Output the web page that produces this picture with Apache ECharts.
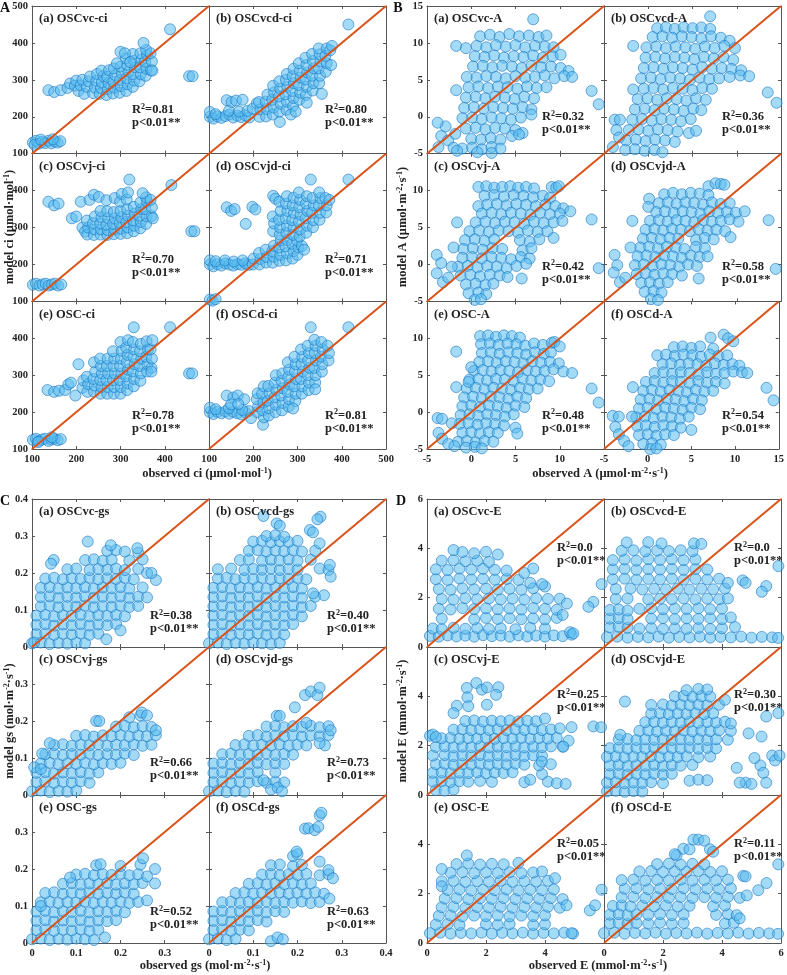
<!DOCTYPE html>
<html>
<head>
<meta charset="utf-8">
<script src="https://cdn.jsdelivr.net/npm/echarts@6/dist/echarts.min.js"></script>
<style>
html, body { margin: 0; background: #fff; }
#main { width: 787px; height: 975px; }
</style>
</head>
<body>
<div id="main"></div>
<script>
// model names and subplot letters
const models = ['OSCvc', 'OSCvcd', 'OSCvj', 'OSCvjd', 'OSC', 'OSCd'];
const letters = ['a', 'b', 'c', 'd', 'e', 'f'];

// R2 per model
const ciR2 = ['0.81', '0.80', '0.70', '0.71', '0.78', '0.81'];
const aR2 = ['0.32', '0.36', '0.42', '0.58', '0.48', '0.54'];
const gsR2 = ['0.38', '0.40', '0.66', '0.73', '0.52', '0.63'];
const eR2 = ['0.0', '0.0', '0.25', '0.30', '0.05', '0.11'];

// axis ranges [min, max, step]
const ciAxis = [100, 500, 100];
const aAxis = [-5, 15, 5];
const gsAxis = [0, 0.4, 0.1];
const eAxis = [0, 6, 2];

// observed vs model, ci (umol/mol)
const ciVc = [[102,130],[109,135],[116,127],[123,132],[130,129],[137,135],[144,128],[151,133],[158,130],[164,134],[106,124],[147,139],[120,138],[137,272],[150,267],[165,272],[180,278],[186,290],[197,284],[200,298],[205,270],[210,285],[214,300],[218,262],[224,281],[228,296],[231,309],[238,264],[242,279],[245,297],[247,316],[253,262],[256,278],[258,293],[261,310],[257,325],[268,259],[271,275],[273,291],[270,308],[274,326],[283,263],[286,279],[284,295],[288,313],[285,331],[298,265],[301,283],[299,300],[303,318],[300,336],[313,270],[316,288],[314,305],[318,322],[315,341],[312,358],[328,281],[331,298],[329,315],[333,334],[331,352],[328,370],[343,296],[346,315],[344,334],[348,355],[345,372],[357,311],[359,330],[356,349],[360,367],[358,381],[369,326],[371,350],[368,372],[300,376],[310,372],[352,400],[412,437],[372,325],[455,310],[463,310],[292,345],[322,348]];
const ciVcd = [[102,200],[102,213],[110,195],[119,201],[128,197],[137,202],[146,206],[155,198],[164,203],[173,199],[182,204],[191,198],[115,207],[145,216],[168,214],[187,216],[140,245],[151,240],[161,244],[176,246],[199,222],[208,236],[214,200],[216,220],[213,240],[229,201],[231,221],[228,241],[232,260],[244,206],[246,225],[243,246],[247,266],[245,284],[260,186],[259,214],[262,235],[258,255],[261,276],[259,296],[275,219],[276,241],[273,261],[277,281],[274,300],[276,316],[290,229],[291,251],[288,270],[292,291],[289,310],[291,330],[304,246],[306,265],[303,286],[307,306],[305,325],[303,345],[319,259],[321,281],[318,301],[322,320],[320,340],[318,360],[334,271],[336,291],[333,311],[337,331],[335,351],[333,370],[349,291],[351,311],[348,331],[352,350],[350,369],[348,385],[364,322],[366,345],[363,365],[366,385],[376,340],[374,380],[378,392],[285,206],[296,214],[321,238],[415,450],[355,262]];
const ciVj = [[102,145],[109,148],[117,143],[124,146],[131,148],[138,143],[145,146],[152,148],[159,143],[166,146],[137,370],[150,360],[160,365],[190,325],[200,330],[210,370],[230,375],[214,300],[220,289],[240,389],[251,383],[225,281],[227,300],[224,319],[240,280],[241,295],[238,312],[242,330],[255,281],[256,295],[254,311],[257,328],[255,345],[270,280],[271,293],[268,308],[272,325],[270,344],[268,374],[285,282],[286,295],[283,310],[287,325],[285,342],[287,380],[300,283],[301,297],[298,312],[302,328],[300,345],[299,370],[303,391],[315,285],[316,300],[313,315],[317,332],[315,350],[314,376],[317,395],[330,290],[331,305],[328,320],[332,338],[330,356],[345,298],[346,315],[343,332],[347,350],[345,368],[358,310],[359,330],[356,350],[360,370],[358,382],[370,331],[371,355],[368,375],[373,325],[320,430],[415,415],[460,290],[467,290],[350,393]];
const ciVjd = [[102,200],[102,211],[110,195],[119,201],[128,197],[137,203],[146,200],[155,197],[164,201],[173,199],[182,203],[190,199],[115,209],[136,211],[156,208],[176,211],[102,105],[108,102],[115,106],[140,355],[150,345],[158,350],[183,310],[198,356],[205,349],[245,386],[250,378],[199,200],[201,216],[214,200],[216,215],[213,231],[229,205],[231,220],[228,240],[244,205],[246,221],[243,236],[247,251],[259,210],[261,226],[258,246],[262,265],[274,211],[276,231],[273,249],[277,266],[289,216],[291,236],[288,256],[300,226],[302,246],[299,265],[310,250],[315,240],[245,290],[247,311],[244,330],[260,281],[261,300],[258,321],[262,345],[259,370],[275,285],[276,305],[273,325],[277,345],[274,365],[276,385],[290,280],[291,300],[288,320],[292,340],[289,360],[291,381],[305,276],[306,295],[303,315],[307,335],[304,355],[306,375],[303,395],[320,286],[321,305],[318,325],[322,345],[319,365],[321,385],[335,301],[336,320],[333,340],[337,360],[334,380],[350,321],[351,340],[348,360],[352,380],[349,395],[365,341],[366,360],[363,380],[372,375],[330,430],[415,430]];
const ciOsc = [[102,125],[109,128],[116,122],[123,126],[130,128],[137,122],[144,126],[151,128],[158,124],[165,127],[114,119],[145,132],[135,260],[150,255],[161,258],[175,260],[182,275],[188,280],[198,245],[205,330],[214,266],[216,286],[225,255],[227,276],[224,296],[240,256],[242,272],[239,290],[243,310],[240,335],[255,250],[257,268],[254,287],[258,305],[256,325],[254,345],[270,250],[271,268],[268,287],[272,305],[269,325],[271,345],[285,250],[286,268],[283,287],[287,305],[284,325],[286,345],[283,365],[300,250],[301,268],[298,287],[302,305],[299,325],[301,345],[303,366],[300,390],[315,260],[316,278],[313,297],[317,315],[314,335],[316,355],[313,375],[317,395],[330,270],[331,290],[328,310],[332,330],[329,350],[331,370],[328,390],[345,285],[346,305],[343,325],[347,345],[344,365],[346,385],[360,310],[361,330],[358,350],[362,370],[359,392],[370,320],[371,345],[368,370],[372,395],[370,310],[330,430],[412,430],[455,305],[462,305]];
const ciOscd = [[102,200],[102,212],[110,195],[119,201],[128,197],[137,202],[146,196],[155,201],[164,197],[173,194],[182,200],[190,203],[115,208],[145,211],[175,206],[195,184],[140,245],[155,240],[165,245],[180,235],[150,221],[166,222],[209,200],[211,216],[208,235],[210,251],[222,166],[224,186],[221,205],[223,226],[220,250],[224,270],[235,191],[236,211],[233,231],[237,251],[234,271],[250,200],[251,220],[248,240],[252,260],[249,280],[251,300],[265,205],[266,225],[263,245],[267,265],[264,285],[266,305],[280,215],[281,235],[278,255],[282,275],[279,295],[281,315],[278,335],[295,230],[296,250],[293,270],[297,290],[294,310],[296,330],[293,350],[310,250],[311,270],[308,290],[312,310],[309,330],[311,350],[308,370],[325,260],[326,280],[323,300],[327,320],[324,340],[326,360],[323,380],[340,280],[341,300],[338,320],[342,340],[339,360],[341,380],[338,396],[355,310],[356,330],[353,350],[357,370],[354,390],[370,340],[371,360],[368,380],[330,430],[415,430],[340,262],[290,210]];

// observed vs model, A (umol m-2 s-1)
const aVc = [[1,10.9],[2.1,11.1],[3.2,10.8],[4.3,11.2],[5.4,10.9],[6.5,11],[7.6,10.8],[8.5,11],[0.6,9.6],[1.7,9.4],[2.8,9.7],[3.9,9.5],[5,9.7],[6.1,9.4],[7.2,9.6],[8.3,9.5],[9.3,9.4],[0.4,8.2],[1.5,8.1],[2.6,8.3],[3.7,8],[4.8,8.2],[5.9,8.1],[7,8.3],[8.1,8],[9.2,8.2],[10.1,8.4],[0.2,6.8],[1.3,6.9],[2.4,6.7],[3.5,6.9],[4.6,6.8],[5.7,6.6],[6.8,6.9],[7.9,6.7],[9,6.8],[10.1,6.6],[11,6.2],[-0.5,5.4],[0.6,5.3],[1.7,5.5],[2.8,5.4],[3.9,5.2],[5,5.5],[6.1,5.3],[7.2,5.4],[8.3,5.6],[9.4,5.2],[10.5,5.5],[11.4,5.4],[-0.3,4],[0.8,4.1],[1.9,3.9],[3,4.1],[4.1,4],[5.2,3.8],[6.3,4.1],[7.4,3.9],[8.5,4],[-0.6,2.6],[0.5,2.7],[1.6,2.5],[2.7,2.7],[3.8,2.6],[4.9,2.4],[6,2.7],[7.1,2.5],[-0.8,1.2],[0.3,1.3],[1.4,1.1],[2.5,1.3],[3.6,1.2],[4.7,1.1],[5.8,1.3],[6.8,1],[-1,-0.2],[0.1,-0.1],[1.2,-0.3],[2.3,-0.1],[3.4,-0.2],[4.5,-0.4],[5.6,-0.1],[6.8,0.3],[-0.6,-1.6],[0.5,-1.5],[1.6,-1.7],[2.7,-1.5],[3.8,-1.6],[5,-1.8],[5.8,-2.2],[0,-3],[1.1,-3.1],[2.2,-2.9],[3.3,-3.1],[4.6,-2.6],[5.4,-2.4],[-1,-4.3],[0.1,-4.2],[1.2,-4.4],[2.3,-4.1],[3.3,-4.3],[-3.7,-4.1],[-3.4,-2.6],[-2.9,-1.3],[-3.8,-0.8],[-2.6,-3.2],[-2,-4.2],[-1.6,-4.6],[-1.8,-2.3],[0.7,-4.8],[2.3,-4.9],[-1.7,9.6],[-0.6,9.3],[-1.7,3.6],[13.6,3.5],[14.4,1.7],[7,13.2]];
const aVcd = [[1,12],[2,12.1],[3,11.9],[4,12.1],[5,12],[6,12.1],[7,11.9],[0.5,10.8],[1.6,10.9],[2.7,10.7],[3.8,10.9],[4.9,10.8],[6,10.6],[7.1,10.9],[8.2,10.7],[9.2,10.3],[-0.2,9.4],[0.9,9.5],[2,9.3],[3.1,9.5],[4.2,9.4],[5.3,9.2],[6.4,9.5],[7.5,9.3],[8.6,9.6],[9.8,9.3],[-0.3,8],[0.8,8.1],[1.9,7.9],[3,8.1],[4.1,8],[5.2,7.8],[6.3,8.1],[7.4,7.9],[8.5,8.1],[9.6,7.7],[-0.5,6.6],[0.6,6.7],[1.7,6.5],[2.8,6.7],[3.9,6.6],[5,6.4],[6.1,6.7],[7.2,6.5],[8.3,6.6],[9.4,6.5],[10.5,6.3],[-0.8,5.2],[0.3,5.3],[1.4,5.1],[2.5,5.3],[3.6,5.2],[4.7,5],[5.8,5.3],[6.9,5.1],[8,5.2],[9.2,5.4],[10.4,5.6],[11.4,5.5],[-0.5,3.8],[0.6,3.9],[1.7,3.7],[2.8,3.9],[3.9,3.8],[5,3.6],[6.1,3.9],[7.2,3.8],[-1.2,2.4],[-0.1,2.5],[1,2.3],[2.1,2.5],[3.2,2.4],[4.3,2.2],[5.4,2.5],[6.5,2.3],[-1.5,1],[-0.4,1.1],[0.7,0.9],[1.8,1.1],[2.9,1],[4,0.8],[5.1,1.1],[6,0.9],[-1.8,-0.4],[-0.7,-0.3],[0.4,-0.5],[1.5,-0.3],[2.6,-0.4],[3.7,-0.6],[4.8,-0.3],[-2.2,-1.8],[-1.1,-1.7],[0,-1.9],[1.1,-1.7],[2.2,-1.8],[3.3,-2],[4.6,-2.2],[5.4,-1.9],[-2.5,-3.2],[-1.4,-3.1],[-0.3,-3.3],[0.8,-3.1],[1.9,-3.2],[3,-3.4],[-2.6,-4.5],[-1.5,-4.4],[-0.4,-4.6],[0.7,-4.5],[1.6,-4.8],[-3.8,-0.4],[-3.2,-0.4],[-3.6,-1.8],[-3.3,-2.8],[-4,-4.1],[-1.7,9.6],[-1.7,3.7],[13.5,3.3],[14.5,1.9],[7,13.6]];
const aVj = [[0.8,10.5],[1.7,10.6],[2.6,10.4],[3.5,10.5],[4.4,10.6],[5.3,10.4],[6.2,10.5],[7.1,10.3],[9.1,10.5],[9.6,10.4],[9.9,10.6],[1.5,9.3],[2.6,9.4],[3.7,9.2],[4.8,9.4],[5.9,9.3],[7,9.1],[8.1,9.3],[8.9,9],[0.8,7.9],[1.8,8.1],[2.9,8.2],[4,8],[5.1,8.2],[6.2,8.1],[7.3,7.9],[8.4,8.1],[9.5,7.9],[10.4,7.6],[1.2,6.9],[2.3,7],[3.4,6.8],[4.5,7],[5.6,6.9],[6.7,6.7],[7.8,7],[8.9,6.8],[10,6.9],[11.2,7.2],[0.5,5.7],[1.6,5.8],[2.7,5.6],[3.8,5.8],[4.9,5.7],[6,5.5],[7.1,5.8],[8.2,5.6],[9.3,5.7],[10.3,5.9],[-0.2,4.5],[0.9,4.6],[2,4.4],[3.1,4.6],[4.2,4.5],[5.3,4.3],[6.4,4.6],[7.5,4.4],[8.6,4.5],[-0.7,3.3],[0.4,3.4],[1.5,3.2],[2.6,3.4],[5.5,3.3],[6.6,3.1],[7.7,3.4],[-0.9,2.1],[0.2,2.2],[1.3,2],[2.4,2.2],[3.5,2.1],[5.8,1.9],[6.8,2.2],[-1,0.9],[0.1,1],[1.2,0.8],[2.3,1],[3.4,0.9],[4.5,0.7],[5.6,1],[6.6,0.8],[-1.5,-0.3],[-0.4,-0.2],[0.7,-0.4],[1.8,-0.2],[2.9,-0.3],[4,-0.5],[5.1,-0.2],[6.2,0.1],[-1.2,-1.5],[-0.1,-1.4],[1,-1.6],[2.1,-1.4],[3.2,-1.5],[4.1,-1.7],[-0.6,-2.7],[0.5,-2.6],[1.6,-2.8],[2.5,-2.6],[-0.3,-3.9],[0.8,-3.8],[1.7,-4],[0.4,-4.8],[1.1,-4.7],[-1.6,5.7],[-2,2.3],[-3.9,1.3],[-3.4,0.2],[-3.9,-1.2],[-3.2,-2.4],[-2.6,-1.8],[-2.2,-0.3],[13.6,6.1],[14.4,-0.5],[9.3,3.6],[5.7,-1.9]];
const aVjd = [[6.8,10.6],[7.6,11],[8.2,10.9],[8.6,10.8],[1.8,9.5],[2.8,9.7],[3.8,9.5],[4.8,9.7],[5.8,9.6],[6.8,9.4],[1.2,8.3],[2.2,8.4],[3.2,8.2],[4.2,8.4],[5.2,8.3],[6.2,8.1],[7.2,8.4],[8.2,8.2],[9.2,8.3],[0.9,7.1],[1.9,7.2],[2.9,7],[3.9,7.2],[4.9,7.1],[5.9,6.9],[6.9,7.2],[7.9,7],[8.9,7.1],[9.9,7],[10.9,7.2],[0.2,5.9],[1.2,6],[2.2,5.8],[3.2,6],[4.2,5.9],[5.2,5.7],[6.2,6],[7.2,5.8],[8.2,5.9],[9.2,6.1],[10.2,5.8],[-0.3,4.7],[0.7,4.8],[1.7,4.6],[2.7,4.8],[3.7,4.7],[4.7,4.5],[5.7,4.8],[6.7,4.6],[7.7,4.7],[8.7,4.5],[-0.6,3.5],[0.4,3.6],[1.4,3.4],[2.4,3.6],[3.4,3.5],[5.4,3.3],[6.4,3.6],[7.4,3.4],[-0.9,2.3],[0.1,2.4],[1.1,2.2],[2.1,2.4],[3.1,2.3],[4.1,2.1],[5.4,2.4],[6.4,2.2],[-1.2,1.1],[-0.2,1.2],[0.8,1],[1.8,1.2],[2.8,1.1],[3.8,0.9],[4.8,1.2],[5.8,1],[6.7,1.1],[-1.5,-0.1],[-0.5,0],[0.5,-0.2],[1.5,0],[2.5,-0.1],[3.5,-0.3],[4.5,0],[5.5,-0.2],[-1.3,-1.3],[-0.3,-1.2],[0.7,-1.4],[1.7,-1.2],[2.7,-1.3],[3.8,-1.5],[-0.8,-2.5],[0.2,-2.4],[1.2,-2.6],[2.2,-2.4],[-0.4,-3.7],[0.6,-3.6],[1.5,-3.8],[0.3,-4.7],[1.1,-4.8],[0.1,8.9],[0,7.8],[-1.8,5.9],[-2,2.3],[-3.8,1.3],[-3.5,-0.1],[-3.9,-1.1],[-3.2,-2.4],[-2.6,-1.8],[13.6,6],[14.4,-0.6],[9.3,3.7],[5.7,-1.9]];
const aOsc = [[1,10.3],[1.9,10.4],[2.8,10.2],[3.7,10.4],[4.6,10.3],[5.5,10.1],[1.1,9.2],[2.1,9.3],[3.1,9.1],[4.1,9.3],[5.1,9.2],[6.1,9],[7.1,9.3],[8.1,9.1],[9.1,9.4],[1.2,8],[2.2,8.1],[3.2,7.9],[4.2,8.1],[5.2,8],[6.2,7.8],[7.2,8.1],[8.2,7.9],[9,8.1],[0.9,6.8],[1.9,6.9],[2.9,6.7],[3.9,6.9],[4.9,6.8],[5.9,6.6],[6.9,6.9],[7.9,6.7],[8.9,6.8],[9.9,6.6],[0.3,5.6],[1.3,5.7],[2.3,5.5],[3.3,5.7],[4.3,5.6],[5.3,5.4],[6.3,5.7],[7.3,5.5],[8.3,5.6],[9.3,5.8],[10.4,5.5],[11.4,5.3],[-0.2,4.4],[0.8,4.5],[1.8,4.3],[2.8,4.5],[3.8,4.4],[4.8,4.2],[5.8,4.5],[6.8,4.3],[7.8,4.4],[8.8,4.2],[-0.5,3.2],[0.5,3.3],[1.5,3.1],[2.5,3.3],[3.5,3.2],[4.5,3],[5.5,3.3],[6.5,3.1],[7.5,3.2],[-0.8,2],[0.2,2.1],[1.2,1.9],[2.2,2.1],[3.2,2],[4.2,1.8],[5.2,2.1],[6.2,1.9],[-1,0.8],[0,0.9],[1,0.7],[2,0.9],[3,0.8],[4,0.6],[5,0.9],[6,0.7],[-1.2,-0.4],[-0.2,-0.3],[0.8,-0.5],[1.8,-0.3],[2.8,-0.4],[3.8,-0.6],[4.8,-0.3],[-1.3,-1.6],[-0.3,-1.5],[0.7,-1.7],[1.7,-1.5],[2.7,-1.6],[3.7,-1.8],[5,-2.1],[-1,-2.8],[0,-2.7],[1,-2.9],[2,-2.7],[3,-2.8],[5.2,-2.9],[-1.5,-4],[-0.5,-3.9],[0.5,-4.1],[1.5,-3.9],[2.5,-4],[-0.6,-4.8],[0.4,-4.7],[1.2,-4.9],[-1.7,8.2],[0,6.1],[-0.3,4.1],[-1.7,3.4],[-3.8,-0.8],[-3.3,-0.9],[-3.7,-2.8],[-3.3,-3.6],[-2.6,-4.3],[-1.9,-4.6],[-2.2,-1.5],[13.6,3.2],[14.4,1.3],[9.4,9.5],[10,8.9]];
const aOscd = [[7.2,10.1],[8.7,10.5],[9.2,10],[9.8,9.6],[3,8.8],[4,8.9],[5,8.7],[6,8.9],[7.5,8.6],[1.1,7.7],[2.1,7.8],[3.1,7.6],[4.1,7.8],[5.1,7.7],[6.1,7.5],[7.1,7.8],[8.1,7.6],[9.1,7.7],[1.7,6.5],[2.7,6.6],[3.7,6.4],[4.7,6.6],[5.7,6.5],[6.7,6.3],[7.7,6.6],[8.7,6.4],[9.7,6.5],[10.5,6.3],[0.8,5.3],[1.8,5.4],[2.8,5.2],[3.8,5.4],[4.8,5.3],[5.8,5.1],[6.8,5.4],[7.8,5.2],[8.8,5.3],[9.8,5.5],[10.8,5.4],[11.4,5.3],[-0.2,4.1],[0.8,4.2],[1.8,4],[2.8,4.2],[3.8,4.1],[4.8,3.9],[5.8,4.2],[6.8,4],[7.8,4.1],[8.8,3.9],[-0.5,2.9],[0.5,3],[1.5,2.8],[2.5,3],[3.5,2.9],[4.5,2.7],[5.5,3],[6.5,2.8],[7.5,2.9],[-0.8,1.7],[0.2,1.8],[1.2,1.6],[2.2,1.8],[3.2,1.7],[4.2,1.5],[5.2,1.8],[6.2,1.6],[-1,0.5],[0,0.6],[1,0.4],[2,0.6],[3,0.5],[4,0.3],[5,0.6],[6,0.4],[-1.3,-0.7],[-0.3,-0.6],[0.7,-0.8],[1.7,-0.6],[2.7,-0.7],[3.7,-0.9],[4.7,-0.6],[-1.2,-1.9],[-0.2,-1.8],[0.8,-2],[1.8,-1.8],[2.8,-1.9],[3.8,-2.1],[5,-2.4],[-1,-3.1],[0,-3],[1,-3.2],[2,-3],[3,-3.1],[-0.5,-4.3],[0.5,-4.2],[1.5,-4.4],[0.3,-5],[1,-4.9],[-4,-0.5],[-3.3,-0.6],[-1.8,-0.6],[-3.7,-2],[-3.3,-3],[-2.7,-3.9],[-2.2,-4.6],[-1.7,3.4],[13.6,3.3],[14.4,1.6]];

// observed vs model, gs (mol m-2 s-1)
const gsVc = [[0,0.01],[0.02,0.012],[0.04,0.008],[0.06,0.011],[0.08,0.009],[0.1,0.012],[0.12,0.01],[0.01,0.035],[0.03,0.037],[0.05,0.033],[0.07,0.036],[0.09,0.034],[0.11,0.037],[0.13,0.033],[0.15,0.036],[0.01,0.06],[0.03,0.062],[0.05,0.058],[0.07,0.061],[0.09,0.059],[0.11,0.062],[0.13,0.058],[0.15,0.061],[0.17,0.059],[0.19,0.062],[0.01,0.085],[0.03,0.087],[0.05,0.083],[0.07,0.086],[0.09,0.084],[0.11,0.087],[0.13,0.083],[0.15,0.086],[0.17,0.084],[0.19,0.087],[0.21,0.083],[0.02,0.11],[0.04,0.112],[0.06,0.108],[0.08,0.111],[0.1,0.109],[0.12,0.112],[0.14,0.108],[0.16,0.111],[0.18,0.109],[0.2,0.112],[0.22,0.108],[0.24,0.111],[0.02,0.135],[0.04,0.137],[0.06,0.133],[0.08,0.136],[0.1,0.134],[0.12,0.137],[0.14,0.133],[0.16,0.136],[0.18,0.134],[0.2,0.137],[0.22,0.133],[0.24,0.136],[0.26,0.134],[0.02,0.16],[0.04,0.162],[0.06,0.158],[0.08,0.161],[0.1,0.159],[0.12,0.162],[0.14,0.158],[0.16,0.161],[0.18,0.159],[0.2,0.162],[0.22,0.158],[0.25,0.161],[0.03,0.185],[0.05,0.187],[0.07,0.183],[0.09,0.186],[0.11,0.184],[0.13,0.187],[0.15,0.183],[0.17,0.186],[0.19,0.184],[0.21,0.187],[0.23,0.183],[0.28,0.181],[0.08,0.21],[0.1,0.212],[0.13,0.208],[0.15,0.211],[0.17,0.209],[0.19,0.212],[0.21,0.208],[0.24,0.211],[0.26,0.2],[0.12,0.235],[0.14,0.237],[0.16,0.233],[0.18,0.236],[0.22,0.234],[0.25,0.237],[0.17,0.26],[0.19,0.262],[0.21,0.258],[0.24,0.255],[0.126,0.285],[0.049,0.235],[0.043,0.225],[0.168,0.021],[0.238,0.267],[0.178,0.275],[0.27,0.2],[0.005,0.012],[0.2,0.045]];
const gsVcd = [[0,0.01],[0.02,0.012],[0.04,0.008],[0.06,0.011],[0.08,0.009],[0.1,0.012],[0.12,0.01],[0.14,0.008],[0.16,0.011],[0.01,0.035],[0.03,0.037],[0.05,0.033],[0.07,0.036],[0.09,0.034],[0.11,0.037],[0.13,0.033],[0.15,0.036],[0.17,0.034],[0.01,0.06],[0.03,0.062],[0.05,0.058],[0.07,0.061],[0.09,0.059],[0.11,0.062],[0.13,0.058],[0.15,0.061],[0.17,0.059],[0.19,0.062],[0.01,0.085],[0.03,0.087],[0.05,0.083],[0.07,0.086],[0.09,0.084],[0.11,0.087],[0.13,0.083],[0.15,0.086],[0.17,0.084],[0.19,0.087],[0.21,0.083],[0.01,0.11],[0.03,0.112],[0.05,0.108],[0.07,0.111],[0.09,0.109],[0.11,0.112],[0.13,0.108],[0.15,0.111],[0.17,0.109],[0.19,0.112],[0.21,0.108],[0.23,0.111],[0.01,0.135],[0.03,0.137],[0.05,0.133],[0.07,0.136],[0.09,0.134],[0.11,0.137],[0.13,0.133],[0.15,0.136],[0.17,0.134],[0.19,0.137],[0.21,0.133],[0.24,0.136],[0.26,0.14],[0.01,0.16],[0.03,0.162],[0.05,0.158],[0.07,0.161],[0.09,0.159],[0.11,0.162],[0.13,0.158],[0.15,0.161],[0.17,0.159],[0.19,0.162],[0.21,0.158],[0.02,0.185],[0.04,0.187],[0.06,0.183],[0.08,0.186],[0.1,0.184],[0.12,0.187],[0.14,0.183],[0.16,0.186],[0.18,0.184],[0.2,0.187],[0.22,0.183],[0.02,0.21],[0.05,0.212],[0.08,0.208],[0.1,0.211],[0.12,0.209],[0.14,0.212],[0.16,0.208],[0.18,0.211],[0.2,0.209],[0.25,0.212],[0.27,0.208],[0.07,0.235],[0.09,0.237],[0.12,0.233],[0.14,0.236],[0.16,0.234],[0.18,0.237],[0.2,0.233],[0.23,0.236],[0.09,0.26],[0.11,0.262],[0.13,0.258],[0.15,0.261],[0.17,0.259],[0.19,0.262],[0.21,0.258],[0.24,0.26],[0.1,0.285],[0.12,0.287],[0.14,0.283],[0.16,0.286],[0.18,0.284],[0.2,0.287],[0.25,0.28],[0.13,0.3],[0.15,0.302],[0.17,0.298],[0.123,0.354],[0.153,0.334],[0.16,0.328],[0.252,0.352],[0.245,0.345],[0.228,0.316],[0.235,0.31],[0.273,0.222],[0.275,0.19],[0.235,0.145]];
const gsVj = [[0,0.01],[0.02,0.012],[0.04,0.008],[0.06,0.011],[0.08,0.009],[0.1,0.012],[0.01,0.035],[0.03,0.037],[0.05,0.033],[0.07,0.036],[0.09,0.034],[0.11,0.037],[0.13,0.033],[0.01,0.06],[0.03,0.062],[0.05,0.058],[0.07,0.061],[0.09,0.059],[0.11,0.062],[0.13,0.058],[0.15,0.061],[0.02,0.085],[0.04,0.087],[0.06,0.083],[0.08,0.086],[0.1,0.084],[0.12,0.087],[0.14,0.083],[0.16,0.086],[0.18,0.084],[0.2,0.087],[0.03,0.11],[0.05,0.112],[0.07,0.108],[0.09,0.111],[0.11,0.109],[0.13,0.112],[0.15,0.108],[0.17,0.111],[0.19,0.109],[0.21,0.112],[0.23,0.108],[0.05,0.135],[0.07,0.137],[0.09,0.133],[0.11,0.136],[0.13,0.134],[0.15,0.137],[0.17,0.133],[0.19,0.136],[0.21,0.134],[0.23,0.137],[0.25,0.133],[0.27,0.136],[0.1,0.16],[0.12,0.162],[0.14,0.158],[0.16,0.161],[0.18,0.159],[0.2,0.162],[0.22,0.158],[0.24,0.161],[0.26,0.159],[0.28,0.162],[0.19,0.185],[0.21,0.187],[0.23,0.183],[0.25,0.186],[0.27,0.184],[0.22,0.21],[0.245,0.215],[0.023,0.112],[0.005,0.075],[0.02,0.07],[0.145,0.2],[0.152,0.2],[0.248,0.223],[0.26,0.215],[0.04,0.14],[0.28,0.175]];
const gsVjd = [[0,0.01],[0.02,0.012],[0.04,0.008],[0.06,0.011],[0.08,0.009],[0.01,0.035],[0.03,0.037],[0.05,0.033],[0.07,0.036],[0.09,0.034],[0.11,0.037],[0.13,0.033],[0.15,0.036],[0.17,0.034],[0.01,0.06],[0.03,0.062],[0.05,0.058],[0.07,0.061],[0.09,0.059],[0.11,0.062],[0.15,0.061],[0.01,0.085],[0.03,0.087],[0.05,0.083],[0.07,0.086],[0.09,0.084],[0.11,0.087],[0.13,0.083],[0.15,0.086],[0.17,0.084],[0.03,0.11],[0.05,0.112],[0.07,0.108],[0.09,0.111],[0.11,0.109],[0.13,0.112],[0.15,0.108],[0.17,0.111],[0.19,0.109],[0.06,0.135],[0.08,0.137],[0.1,0.133],[0.12,0.136],[0.14,0.134],[0.16,0.137],[0.18,0.133],[0.2,0.136],[0.22,0.134],[0.09,0.16],[0.11,0.162],[0.13,0.158],[0.15,0.161],[0.17,0.159],[0.19,0.162],[0.21,0.158],[0.23,0.161],[0.25,0.159],[0.27,0.162],[0.13,0.185],[0.15,0.187],[0.17,0.183],[0.19,0.186],[0.21,0.184],[0.23,0.187],[0.25,0.183],[0.27,0.186],[0.123,0.04],[0.14,0.015],[0.155,0.02],[0.165,0.01],[0.217,0.27],[0.23,0.28],[0.245,0.27],[0.25,0.29],[0.194,0.237],[0.153,0.214],[0.16,0.214],[0.22,0.195],[0.262,0.134],[0.275,0.175],[0.25,0.14]];
const gsOsc = [[0,0.01],[0.02,0.012],[0.04,0.008],[0.06,0.011],[0.08,0.009],[0.1,0.012],[0.12,0.01],[0.14,0.008],[0.01,0.035],[0.03,0.037],[0.05,0.033],[0.07,0.036],[0.09,0.034],[0.11,0.037],[0.13,0.033],[0.15,0.036],[0.01,0.06],[0.03,0.062],[0.05,0.058],[0.07,0.061],[0.09,0.059],[0.11,0.062],[0.13,0.058],[0.15,0.061],[0.17,0.059],[0.19,0.062],[0.01,0.085],[0.03,0.087],[0.05,0.083],[0.07,0.086],[0.09,0.084],[0.11,0.087],[0.13,0.083],[0.15,0.086],[0.17,0.084],[0.19,0.087],[0.21,0.083],[0.02,0.11],[0.04,0.112],[0.06,0.108],[0.08,0.111],[0.1,0.109],[0.12,0.112],[0.14,0.108],[0.16,0.111],[0.18,0.109],[0.2,0.112],[0.22,0.108],[0.24,0.111],[0.26,0.115],[0.03,0.135],[0.05,0.137],[0.07,0.133],[0.09,0.136],[0.11,0.134],[0.13,0.137],[0.15,0.133],[0.17,0.136],[0.19,0.134],[0.21,0.137],[0.23,0.133],[0.07,0.16],[0.09,0.162],[0.11,0.158],[0.13,0.161],[0.15,0.159],[0.17,0.162],[0.19,0.158],[0.21,0.161],[0.23,0.159],[0.25,0.162],[0.1,0.185],[0.12,0.187],[0.14,0.183],[0.16,0.186],[0.18,0.184],[0.2,0.187],[0.22,0.183],[0.24,0.186],[0.145,0.21],[0.155,0.213],[0.2,0.208],[0.245,0.212],[0.02,0.1],[0.165,0.015],[0.278,0.2],[0.278,0.161],[0.26,0.18],[0.251,0.229],[0.086,0.177]];
const gsOscd = [[0,0.01],[0.02,0.012],[0.04,0.008],[0.06,0.011],[0.01,0.035],[0.03,0.037],[0.05,0.033],[0.07,0.036],[0.09,0.034],[0.01,0.06],[0.03,0.062],[0.05,0.058],[0.07,0.061],[0.09,0.059],[0.11,0.062],[0.13,0.058],[0.01,0.085],[0.03,0.087],[0.05,0.083],[0.07,0.086],[0.09,0.084],[0.11,0.087],[0.13,0.083],[0.15,0.086],[0.17,0.084],[0.03,0.11],[0.05,0.112],[0.07,0.108],[0.09,0.111],[0.11,0.109],[0.13,0.112],[0.15,0.108],[0.17,0.111],[0.19,0.109],[0.21,0.112],[0.23,0.108],[0.25,0.111],[0.06,0.135],[0.08,0.137],[0.1,0.133],[0.12,0.136],[0.14,0.134],[0.16,0.137],[0.18,0.133],[0.2,0.136],[0.22,0.134],[0.24,0.137],[0.26,0.133],[0.09,0.16],[0.11,0.162],[0.13,0.158],[0.15,0.161],[0.17,0.159],[0.19,0.162],[0.21,0.158],[0.23,0.161],[0.12,0.185],[0.14,0.187],[0.16,0.183],[0.18,0.186],[0.2,0.184],[0.22,0.187],[0.25,0.183],[0.27,0.186],[0.14,0.21],[0.16,0.212],[0.19,0.208],[0.21,0.211],[0.19,0.235],[0.2,0.24],[0.14,0.005],[0.155,0.015],[0.167,0.01],[0.217,0.309],[0.225,0.31],[0.239,0.305],[0.25,0.345],[0.254,0.352],[0.247,0.314],[0.27,0.197],[0.28,0.175],[0.25,0.22],[0.198,0.247],[0.272,0.12]];

// observed vs model, E (mmol m-2 s-1)
const eVc = [[0.1,0.45],[0.4,0.42],[0.7,0.47],[1,0.43],[1.3,0.46],[1.6,0.42],[1.9,0.48],[2.2,0.44],[2.5,0.46],[2.8,0.42],[3.1,0.47],[3.4,0.43],[3.7,0.46],[4,0.42],[4.3,0.47],[4.6,0.44],[4.9,0.5],[0.2,0.75],[0.5,0.72],[0.9,0.78],[1.3,0.74],[1.7,0.77],[2.1,0.73],[2.5,0.76],[3,0.72],[3.5,0.78],[4,0.75],[0.5,1.15],[1.6,1.12],[2,1.18],[2.4,1.14],[2.8,1.17],[3.2,1.13],[3.6,1.16],[4,1.12],[4.4,1.18],[0.4,1.55],[0.8,1.52],[1.2,1.58],[1.6,1.54],[2,1.57],[2.4,1.53],[2.8,1.56],[3.2,1.52],[3.6,1.58],[4,1.55],[4.4,1.51],[0.5,1.95],[0.9,1.92],[1.3,1.98],[1.7,1.94],[2.1,1.97],[2.5,1.93],[2.9,1.96],[3.3,1.92],[3.7,1.98],[4.1,1.95],[4.5,1.96],[0.4,2.35],[0.8,2.32],[1.2,2.38],[1.6,2.34],[2,2.37],[2.4,2.33],[2.8,2.36],[3.2,2.32],[3.6,2.38],[4,2.45],[0.3,2.75],[0.7,2.72],[1.1,2.78],[1.5,2.74],[1.9,2.77],[2.3,2.73],[2.7,2.76],[3.1,2.72],[3.5,2.6],[3.9,2.55],[0.3,3.15],[0.7,3.12],[1.1,3.18],[1.5,3.14],[1.9,3.17],[2.3,3.13],[2.7,3.1],[3.3,3],[3.6,3.18],[0.5,3.5],[0.9,3.52],[1.3,3.48],[1.7,3.5],[2.1,3.45],[0.9,3.93],[1.2,3.85],[1.6,3.8],[2,3.86],[2.4,3.75],[5.64,1.83],[5.47,1.63],[5.92,2.55],[4.85,0.6],[4.96,0.55],[4.74,1.76],[4.6,1.3]];
const eVcd = [[0.1,0.4],[0.45,0.42],[0.8,0.38],[1.15,0.41],[1.5,0.39],[1.85,0.42],[2.2,0.38],[2.55,0.41],[2.9,0.39],[3.25,0.42],[3.6,0.38],[3.95,0.41],[4.3,0.39],[4.65,0.42],[5,0.38],[5.35,0.41],[5.7,0.39],[5.9,0.37],[0.2,0.8],[0.5,0.82],[0.8,0.78],[0.2,1.15],[0.5,1.17],[0.8,1.13],[0.2,1.5],[0.5,1.52],[0.8,1.48],[1.2,0.75],[1.6,0.77],[2,0.73],[2.4,0.76],[2.8,0.74],[3.2,0.77],[3.6,0.73],[4,0.76],[1.6,1.15],[2,1.17],[2.4,1.13],[2.8,1.16],[3.2,1.14],[3.6,1.17],[4,1.13],[1.2,1.55],[1.6,1.57],[2,1.53],[2.4,1.56],[2.8,1.54],[3.2,1.57],[3.6,1.53],[4,1.56],[0.4,1.95],[0.8,1.97],[1.5,1.93],[1.9,1.96],[2.3,1.94],[2.7,1.97],[3.1,1.93],[3.5,1.96],[3.9,1.94],[4.2,1.97],[0.4,2.35],[0.9,2.37],[1.3,2.33],[1.7,2.36],[2.1,2.34],[2.5,2.37],[2.9,2.33],[3.3,2.36],[3.7,2.34],[4.1,2.37],[0.3,2.75],[0.7,2.77],[1.1,2.73],[1.5,2.76],[1.9,2.74],[2.3,2.77],[2.7,2.73],[3.1,2.76],[3.5,2.74],[3.9,2.77],[4.2,2.6],[0.3,3.15],[0.7,3.17],[1.1,3.13],[1.5,3.16],[1.9,3.14],[2.3,3.17],[2.7,3.13],[3.1,3.16],[3.5,3.14],[0.3,3.52],[0.7,3.55],[1.1,3.5],[1.5,3.56],[1.9,3.53],[2.3,3.56],[2.7,3.52],[3.1,3.55],[0.6,3.9],[1,3.92],[1.4,3.88],[1.8,3.91],[2.2,3.89],[2.6,3.92],[3,3.88],[0.77,4.24],[1.5,4.25],[1.95,4.2],[3.05,4.2],[3.3,4.18],[5.91,3.28],[5.5,2.47],[5.35,2.24],[4.44,0.81],[4.3,1.2],[4.7,2.7],[4.8,2.6]];
const eVj = [[0.3,0.2],[0.6,0.18],[0.9,0.22],[0.2,0.55],[0.5,0.57],[0.8,0.53],[1.1,0.56],[1.4,0.54],[1.8,0.57],[2.2,0.53],[3.3,0.52],[3.5,0.62],[4.1,0.54],[4.4,0.48],[4.7,0.45],[0.2,0.9],[0.5,0.92],[0.8,0.88],[1.1,0.91],[1.4,0.89],[1.7,0.92],[2,0.88],[2.3,0.91],[2.6,0.89],[2.9,0.92],[3.9,0.85],[0.3,1.25],[0.6,1.27],[0.9,1.23],[1.2,1.26],[1.5,1.24],[1.8,1.27],[2.1,1.23],[2.4,1.26],[2.7,1.24],[3,1.27],[3.3,1.23],[3.8,1.2],[4.2,1.25],[0.2,1.6],[0.6,1.62],[0.9,1.58],[1.2,1.61],[1.5,1.59],[1.8,1.62],[2.1,1.58],[2.4,1.61],[2.7,1.59],[3,1.62],[3.3,1.58],[3.6,1.61],[3.9,1.59],[0.3,1.95],[0.6,1.97],[0.9,1.93],[1.2,1.96],[1.5,1.94],[1.8,1.97],[2.1,1.93],[2.4,1.96],[2.7,1.94],[3,1.97],[3.3,1.93],[3.6,1.96],[3.9,1.94],[4.2,1.97],[4.6,1.96],[0.5,2.3],[0.8,2.32],[1.1,2.28],[1.4,2.31],[1.7,2.29],[2,2.32],[2.3,2.28],[2.6,2.31],[2.9,2.29],[3.2,2.32],[3.5,2.28],[3.8,2.31],[4.1,2.29],[4.4,2.32],[4.8,2.2],[0.9,2.65],[1.2,2.67],[1.5,2.63],[1.8,2.66],[2.1,2.64],[2.4,2.67],[2.7,2.63],[3,2.66],[3.3,2.64],[3.6,2.67],[3.9,2.63],[4.2,2.66],[4.5,2.7],[4.9,2.75],[1.3,3],[1.6,3.02],[1.9,2.98],[2.2,3.01],[2.5,2.99],[2.8,3.02],[3.1,2.98],[3.4,3.01],[3.7,2.99],[4,3.1],[0.1,2.4],[0.2,2.45],[0.3,2.35],[1.35,4.34],[1.67,4.54],[1.86,4.27],[2.03,4.36],[2.42,4.37],[2.34,4.06],[1.37,3.96],[1.01,3.62],[1.4,3.6],[2.03,3.66],[0.9,3.32],[5.64,2.78],[5.9,2.75],[4.62,1.96],[3.89,1.35]];
const eVjd = [[0.1,0.15],[0.4,0.17],[0.7,0.13],[1,0.16],[1.3,0.14],[0.1,0.5],[0.4,0.52],[0.7,0.48],[1,0.51],[1.3,0.49],[1.6,0.52],[2,0.48],[2.9,0.58],[3.2,0.62],[3.5,0.6],[4.8,0.5],[5,0.45],[0.2,0.85],[0.5,0.87],[0.8,0.83],[1.1,0.86],[1.4,0.84],[1.7,0.87],[2,0.83],[2.3,0.86],[4.5,1.1],[0.2,1.2],[0.5,1.22],[0.8,1.18],[1.1,1.21],[1.4,1.19],[1.7,1.22],[2,1.18],[2.3,1.21],[2.6,1.19],[3,1.22],[5.3,1.2],[0.1,1.55],[0.4,1.57],[0.7,1.53],[1,1.56],[1.3,1.54],[1.6,1.57],[1.9,1.53],[2.2,1.56],[2.5,1.54],[2.8,1.57],[3.2,1.53],[3.6,1.56],[5.1,1.5],[0.2,1.9],[0.5,1.92],[0.8,1.88],[1.1,1.91],[1.4,1.89],[1.7,1.92],[2,1.88],[2.3,1.91],[2.6,1.89],[2.9,1.92],[3.2,1.88],[3.5,1.91],[3.8,1.89],[0.5,2.25],[0.8,2.27],[1.1,2.23],[1.4,2.26],[1.7,2.24],[2,2.27],[2.3,2.23],[2.6,2.26],[2.9,2.24],[3.2,2.27],[3.5,2.23],[3.8,2.26],[4.2,2.24],[1.2,2.6],[1.5,2.62],[1.8,2.58],[2.1,2.61],[2.4,2.59],[2.7,2.62],[3,2.58],[3.3,2.61],[3.6,2.59],[3.9,2.62],[4.3,2.6],[1.4,2.95],[1.7,2.97],[2,2.93],[2.3,2.96],[2.6,2.94],[2.9,2.97],[3.2,2.93],[3.5,2.96],[3.8,2.94],[4.1,2.97],[1.6,3.3],[1.9,3.32],[2.2,3.28],[2.5,3.31],[2.8,3.29],[3.1,3.32],[3.4,3.28],[3.7,3.31],[1.6,3.65],[2,3.67],[2.3,3.63],[2.6,3.66],[2.9,3.64],[3.2,3.67],[3.5,3.63],[3.9,3.66],[2.4,4],[2.7,4.02],[3,3.98],[3.3,4.01],[3.6,3.99],[4.1,3.86],[2.8,4.25],[3.2,4.3],[3.5,4.28],[0.71,3.79],[0.55,2.44],[4.9,2.5],[5.34,2.37],[5.7,1.6],[5.8,1.4],[5.95,1.6],[5.5,3.18],[5.91,3.32],[5.4,0.9],[5.5,0.5],[4.6,0.5],[4.3,2.9]];
const eOsc = [[0.1,0.4],[0.45,0.42],[0.8,0.38],[1.15,0.41],[1.5,0.39],[1.85,0.42],[2.2,0.38],[2.55,0.41],[2.9,0.39],[3.25,0.42],[3.6,0.38],[3.95,0.41],[4.3,0.39],[4.65,0.42],[4.95,0.38],[0.3,0.75],[0.7,0.77],[1.1,0.73],[2,0.76],[2.4,0.74],[2.8,0.77],[3.6,0.73],[4,0.76],[0.4,1.1],[0.8,1.12],[1.2,1.08],[1.6,1.11],[2,1.09],[2.4,1.12],[2.8,1.08],[3.2,1.11],[3.6,1.09],[4,1.12],[0.5,1.45],[0.9,1.47],[1.3,1.43],[1.7,1.46],[2.1,1.44],[2.5,1.47],[2.9,1.43],[3.3,1.46],[3.7,1.44],[4.1,1.47],[4.5,1.43],[0.6,1.8],[1,1.82],[1.4,1.78],[1.8,1.81],[2.2,1.79],[2.6,1.82],[3,1.78],[3.4,1.81],[3.8,1.79],[4.2,1.82],[4.6,1.78],[0.7,2.15],[1.1,2.17],[1.5,2.13],[1.9,2.16],[2.3,2.14],[2.7,2.17],[3.1,2.13],[3.5,2.16],[3.9,2.14],[4.3,2.17],[0.5,2.5],[0.9,2.52],[1.3,2.48],[1.7,2.51],[2.1,2.49],[2.5,2.52],[2.9,2.48],[3.3,2.51],[3.7,2.49],[4.1,2.52],[0.8,2.85],[1.2,2.87],[1.6,2.83],[2,2.86],[2.4,2.84],[2.8,2.87],[3.2,2.83],[3.6,2.86],[1,3.2],[1.4,3.22],[1.8,3.18],[2.2,3.21],[2.6,3.19],[3.1,3.25],[1.35,3.55],[0.5,3],[0.5,2.3],[5.52,1.32],[5.7,1.53],[5.92,2.16],[4.73,1.53],[4.9,0.4],[4.34,2.63],[3.9,2.9]];
const eOscd = [[0,0.4],[0.35,0.42],[0.7,0.38],[1.05,0.41],[1.4,0.39],[1.75,0.42],[2.1,0.38],[2.45,0.41],[2.8,0.39],[3.15,0.42],[3.5,0.38],[3.85,0.41],[4.2,0.39],[4.55,0.42],[4.9,0.38],[5.25,0.41],[5.6,0.39],[5.9,0.37],[0.2,0.8],[0.5,0.82],[0.8,0.78],[1.1,0.81],[1.5,0.79],[1.9,0.82],[2.3,0.78],[2.7,0.81],[4.1,0.79],[4.4,0.82],[0.2,1.15],[0.5,1.17],[0.8,1.13],[1.1,1.16],[1.5,1.14],[1.9,1.17],[2.3,1.13],[2.7,1.16],[3.8,1.14],[4.2,1.17],[4.5,1.13],[0.3,1.5],[0.6,1.52],[0.9,1.48],[1.3,1.51],[1.7,1.49],[2.1,1.52],[2.5,1.48],[2.9,1.51],[3.7,1.49],[4.1,1.52],[0.6,1.85],[1,1.87],[1.4,1.83],[1.8,1.86],[2.2,1.84],[2.6,1.87],[3,1.83],[3.4,1.86],[3.8,1.84],[4.2,1.87],[4.6,1.83],[0.7,2.2],[1.1,2.22],[1.5,2.18],[1.9,2.21],[2.3,2.19],[2.7,2.22],[3.1,2.18],[3.5,2.21],[3.9,2.19],[4.3,2.22],[0.6,2.55],[1,2.57],[1.4,2.53],[1.8,2.56],[2.2,2.54],[2.6,2.57],[3,2.53],[3.4,2.56],[3.8,2.54],[4.2,2.57],[1.2,2.9],[1.6,2.92],[2,2.88],[2.4,2.91],[2.8,2.89],[3.2,2.92],[3.6,2.88],[4,2.91],[1.8,3.2],[2.2,3.22],[2.6,3.18],[3,3.21],[3.4,3.19],[2.46,3.55],[2.69,3.82],[2.9,3.8],[3.03,4.19],[3.2,4.19],[3.4,4.15],[3.59,3.8],[3.7,3.7],[2.4,3.6],[5.91,3.19],[5.51,2.43],[5.23,2.14],[4.72,2.72],[4.8,2.7],[4.6,1],[4.84,1.93]];

const panels = [
  { letter: 'A', key: 'ci', axis: ciAxis, sets: [ciVc, ciVcd, ciVj, ciVjd, ciOsc, ciOscd], r2: ciR2,
    xName: 'observed ci (μmol·mol{s|-1})', yName: 'model ci (μmol·mol{s|-1})',
    left: 32, top: 6, rowH: 147.7, r2dx: [100, 116], r2dy: [104, 106, 114],
    letterPos: [5, 8], xNamePos: [207, 474], yNamePos: [10, 227] },
  { letter: 'B', key: 'A', axis: aAxis, sets: [aVc, aVcd, aVj, aVjd, aOsc, aOscd], r2: aR2,
    xName: 'observed A (μmol·m{s|-2}·s{s|-1})', yName: 'model A (μmol·m{s|-2}·s{s|-1})',
    left: 427, top: 6, rowH: 147.7, r2dx: [115, 118], r2dy: [111, 113, 114],
    letterPos: [398, 8], xNamePos: [600, 474], yNamePos: [403, 227] },
  { letter: 'C', key: 'gs', axis: gsAxis, sets: [gsVc, gsVcd, gsVj, gsVjd, gsOsc, gsOscd], r2: gsR2,
    xName: 'observed gs (mol·m{s|-2}·s{s|-1})', yName: 'model gs (mol·m{s|-2}·s{s|-1})',
    left: 32, top: 499, rowH: 148, r2dx: [118, 118], r2dy: [117, 116, 117],
    letterPos: [5, 501], xNamePos: [205, 966], yNamePos: [10, 721] },
  { letter: 'D', key: 'E', axis: eAxis, sets: [eVc, eVcd, eVj, eVjd, eOsc, eOscd], r2: eR2,
    xName: 'observed E (mmol·m{s|-2}·s{s|-1})', yName: 'model E (mmol·m{s|-2}·s{s|-1})',
    left: 427, top: 499, rowH: 148, r2dx: [130, 130], r2dy: [49, 48, 49],
    letterPos: [401, 501], xNamePos: [598, 966], yNamePos: [403, 721] }
];

const FONT = 'Liberation Serif';
const AX = '#555';
const CELL_W = 177;
const rich = {
  s: { fontFamily: FONT, fontWeight: 'bold', fontSize: 8, lineHeight: 8, verticalAlign: 'top', fill: '#222' },
  n: { fontFamily: FONT, fontWeight: 'bold', fontSize: 12.5, lineHeight: 15, fill: '#222' }
};

function wrap(t) {
  // every plain run goes into the "n" style so the sup sits on top
  return t.split(/(\{s\|[^}]*\})/).filter(p => p).map(p => p.startsWith('{s|') ? p : '{n|' + p + '}').join('');
}

const grid = [], xAxis = [], yAxis = [], series = [], graphic = [];
let g = 0;
panels.forEach(p => {
  const [mn, mx, step] = p.axis;
  for (let r = 0; r < 3; r++) {
    for (let c = 0; c < 2; c++) {
      const i = r * 2 + c;
      const gl = p.left + c * CELL_W, gt = p.top + r * p.rowH;
      grid.push({ left: gl, top: gt, width: CELL_W, height: p.rowH });
      const lineStyle = { color: AX, width: 1 };
      const labelStyle = { fontFamily: FONT, fontWeight: 'bold', fontSize: 10.5, color: '#222' };
      xAxis.push({ gridIndex: g, type: 'value', min: mn, max: mx, interval: step, position: 'bottom',
        axisLine: { show: true, onZero: false, lineStyle }, axisTick: { show: true, inside: true, length: 3, lineStyle },
        axisLabel: Object.assign({ show: r === 2, showMaxLabel: c === 1, showMinLabel: true, margin: 5 }, labelStyle),
        splitLine: { show: false } });
      xAxis.push({ gridIndex: g, type: 'value', min: mn, max: mx, interval: step, position: 'top',
        axisLine: { show: true, onZero: false, lineStyle }, axisTick: { show: true, inside: true, length: 3, lineStyle },
        axisLabel: { show: false }, splitLine: { show: false } });
      yAxis.push({ gridIndex: g, type: 'value', min: mn, max: mx, interval: step, position: 'left',
        axisLine: { show: true, onZero: false, lineStyle }, axisTick: { show: true, inside: true, length: 3, lineStyle },
        axisLabel: Object.assign({ show: c === 0, showMaxLabel: r === 0, showMinLabel: true, margin: 4 }, labelStyle),
        splitLine: { show: false } });
      yAxis.push({ gridIndex: g, type: 'value', min: mn, max: mx, interval: step, position: 'right',
        axisLine: { show: true, onZero: false, lineStyle }, axisTick: { show: true, inside: true, length: 3, lineStyle },
        axisLabel: { show: false }, splitLine: { show: false } });

      series.push({ type: 'scatter', xAxisIndex: 2 * g, yAxisIndex: 2 * g, data: p.sets[i],
        symbolSize: 11, z: 2,
        itemStyle: { color: 'rgba(88,188,238,0.55)', borderColor: 'rgba(20,115,195,0.85)', borderWidth: 0.7, opacity: 1 } });
      series.push({ type: 'line', xAxisIndex: 2 * g, yAxisIndex: 2 * g, data: [[mn, mn], [mx, mx]],
        symbol: 'none', z: 3, lineStyle: { color: '#D95319', width: 2 } });

      graphic.push({ type: 'text', x: gl + 7, y: gt + 13, z: 10,
        style: { text: '(' + letters[i] + ') ' + models[i] + '-' + p.key, fill: '#222',
          font: 'bold 12.5px "' + FONT + '"', textAlign: 'left', textVerticalAlign: 'middle' } });
      graphic.push({ type: 'text', x: gl + p.r2dx[c], y: gt + p.r2dy[r], z: 10,
        style: { text: wrap('R{s|2}=' + p.r2[i]), rich, textAlign: 'left', textVerticalAlign: 'middle' } });
      graphic.push({ type: 'text', x: gl + p.r2dx[c], y: gt + p.r2dy[r] + 13, z: 10,
        style: { text: 'p<0.01**', fill: '#222', font: 'bold 12.5px "' + FONT + '"', textAlign: 'left', textVerticalAlign: 'middle' } });
      g++;
    }
  }
  graphic.push({ type: 'text', x: p.letterPos[0], y: p.letterPos[1], z: 10,
    style: { text: p.letter, fill: '#111', font: 'bold 14px "' + FONT + '"', textAlign: 'center', textVerticalAlign: 'middle' } });
  graphic.push({ type: 'text', x: p.xNamePos[0], y: p.xNamePos[1], z: 10,
    style: { text: wrap(p.xName), rich, textAlign: 'center', textVerticalAlign: 'middle' } });
  graphic.push({ type: 'text', x: p.yNamePos[0], y: p.yNamePos[1], rotation: Math.PI / 2, z: 10,
    style: { text: wrap(p.yName), rich, textAlign: 'center', textVerticalAlign: 'middle' } });
});

const chart = echarts.init(document.getElementById('main'), null, { renderer: 'canvas' });
chart.setOption({
  animation: false,
  backgroundColor: '#fff',
  grid, xAxis, yAxis, series, graphic
});
</script>
</body>
</html>
